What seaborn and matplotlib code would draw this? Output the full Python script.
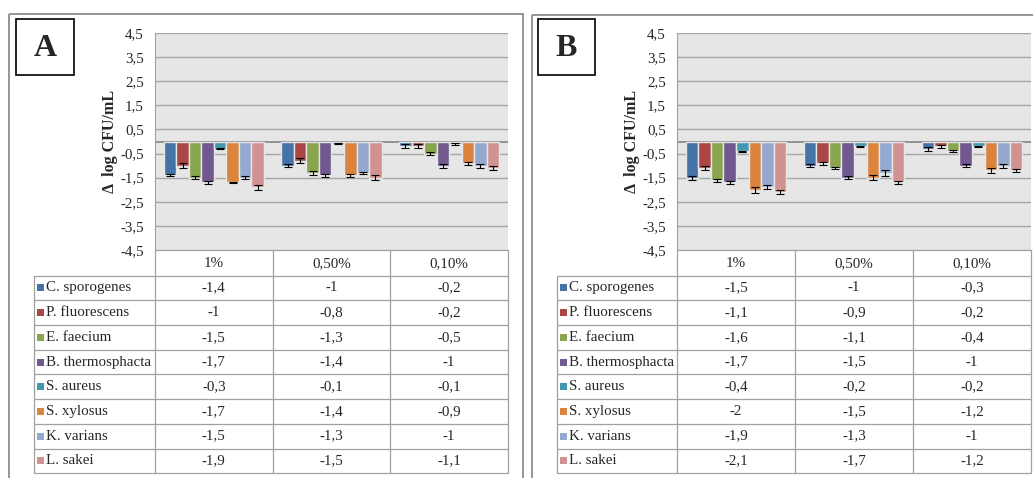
import numpy as np
import pandas as pd
import seaborn as sns
import matplotlib.pyplot as plt
from matplotlib.patches import Rectangle

# ------------------ Data ------------------
concentrations = ["1%", "0,50%", "0,10%"]
species = ["C. sporogenes", "P. fluorescens", "E. faecium", "B. thermosphacta",
           "S. aureus", "S. xylosus", "K. varians", "L. sakei"]
colors = ["#4572A7", "#AA4643", "#89A54E", "#71588F",
          "#4198AF", "#DB843D", "#93A9CF", "#D19392"]

# values per species: [1%, 0.50%, 0.10%]
a_values = [[-1.4, -1.0, -0.2], [-1.0, -0.8, -0.2], [-1.5, -1.3, -0.5], [-1.7, -1.4, -1.0],
            [-0.3, -0.1, -0.1], [-1.7, -1.4, -0.9], [-1.5, -1.3, -1.0], [-1.9, -1.5, -1.1]]
a_errors = [[0.05, 0.07, 0.08], [0.10, 0.10, 0.08], [0.05, 0.07, 0.08], [0.08, 0.07, 0.08],
            [0.02, 0.02, 0.03], [0.02, 0.06, 0.07], [0.05, 0.05, 0.08], [0.10, 0.10, 0.08]]

b_values = [[-1.5, -1.0, -0.3], [-1.1, -0.9, -0.2], [-1.6, -1.1, -0.4], [-1.7, -1.5, -1.0],
            [-0.4, -0.2, -0.2], [-2.0, -1.5, -1.2], [-1.9, -1.3, -1.0], [-2.1, -1.7, -1.2]]
b_errors = [[0.08, 0.07, 0.08], [0.08, 0.07, 0.05], [0.06, 0.05, 0.05], [0.06, 0.06, 0.06],
            [0.02, 0.02, 0.02], [0.12, 0.10, 0.12], [0.08, 0.12, 0.08], [0.08, 0.08, 0.08]]

y_ticks = [4.5, 3.5, 2.5, 1.5, 0.5, -0.5, -1.5, -2.5, -3.5, -4.5]
y_tick_labels = ["4,5", "3,5", "2,5", "1,5", "0,5", "-0,5", "-1,5", "-2,5", "-3,5", "-4,5"]

W, H = 1033, 478
BG = "#E6E6E6"
GRID = "#A6A6A6"
LINE = "#A0A0A0"
FS = 10.8


def fmt(v):
    return f"{v:g}".replace(".", ",")


def px_axes(fig, x0, y0, x1, y1):
    return fig.add_axes([x0 / W, 1 - y1 / H, (x1 - x0) / W, (y1 - y0) / H])


def draw_panel(fig, ov, letter, values, errors, border, letter_box, plot_box, table_x0, ylabel_x):
    # panel border
    bx0, by0, bx1 = border
    ov.add_patch(Rectangle((bx0, by0), bx1 - bx0, 600, fill=False, edgecolor="#8C8C8C", lw=1.3))
    # letter box
    lx0, ly0, lx1, ly1 = letter_box
    ov.add_patch(Rectangle((lx0, ly0), lx1 - lx0, ly1 - ly0, facecolor="white", edgecolor="black", lw=1.2))
    ov.text((lx0 + lx1) / 2, (ly0 + ly1) / 2 + 1, letter, ha="center", va="center",
            fontsize=23, fontweight="bold")

    px0, py0, px1, py1 = plot_box
    ax = px_axes(fig, px0, py0, px1, py1)

    df = pd.DataFrame({
        "species": np.repeat(species, len(concentrations)),
        "conc": concentrations * len(species),
        "value": np.ravel(values),
    })
    sns.barplot(data=df, x="conc", y="value", hue="species", order=concentrations,
                hue_order=species, palette=colors, saturation=1, width=0.85,
                errorbar=None, edgecolor=BG, linewidth=1, legend=False, ax=ax, zorder=3)

    for cont, err in zip(ax.containers, errors):
        for bar, e in zip(cont, err):
            xc = bar.get_x() + bar.get_width() / 2
            ax.errorbar(xc, bar.get_height(), yerr=e, fmt="none", ecolor="black",
                        elinewidth=0.8, capsize=3, capthick=0.8, zorder=4)

    ax.set_facecolor(BG)
    ax.set_ylim(-4.5, 4.5)
    ax.set_xlim(-0.5, 2.5)
    ax.set_yticks(y_ticks)
    ax.set_yticklabels(y_tick_labels, fontsize=FS)
    ax.tick_params(axis="y", length=0, pad=8)
    ax.set_xticks([])
    ax.set_xlabel("")
    ax.set_ylabel("")
    ax.grid(axis="y", color=GRID, lw=1)
    ax.grid(axis="x", visible=False)
    ax.axhline(0, color="#8C8C8C", lw=1.3, zorder=2)
    for side in ["top", "right", "bottom"]:
        ax.spines[side].set_visible(False)
    ax.spines["left"].set_color(LINE)
    ax.spines["left"].set_linewidth(0.8)

    ov.text(ylabel_x, (py0 + py1) / 2, "\u0394  log CFU/mL", rotation=90, ha="center",
            va="center", fontsize=11.5, fontweight="bold")

    # data table
    col_w = (px1 - px0) / len(concentrations)
    head_bottom = 275.6
    row_h = 24.7
    n = len(species)
    tb = head_bottom + n * row_h
    # header row
    ov.plot([px0, px1], [py1, py1], color=LINE, lw=0.9)
    for k in range(len(concentrations) + 1):
        xk = px0 + k * col_w
        ov.plot([xk, xk], [py1, tb], color=LINE, lw=0.9)
    for k, c in enumerate(concentrations):
        ov.text(px0 + (k + 0.5) * col_w, (py1 + head_bottom) / 2 + 1, c, ha="center",
                va="center", fontsize=FS)
    # body rows
    ov.plot([table_x0, table_x0], [head_bottom, tb], color=LINE, lw=0.9)
    for i in range(n + 1):
        yi = head_bottom + i * row_h
        ov.plot([table_x0, px1], [yi, yi], color=LINE, lw=0.9)
    for i, (name, col) in enumerate(zip(species, colors)):
        yc = head_bottom + (i + 0.5) * row_h
        ov.add_patch(Rectangle((table_x0 + 3, yc - 3.5), 7, 7, facecolor=col, edgecolor="none"))
        ov.text(table_x0 + 12, yc, name, ha="left", va="center", fontsize=FS)
        for k, v in enumerate(values[i]):
            ov.text(px0 + (k + 0.5) * col_w, yc, fmt(v), ha="center", va="center", fontsize=FS)


def main():
    sns.set_theme(style="white")
    plt.rcParams["font.family"] = ["Liberation Serif", "DejaVu Serif"]

    fig = plt.figure(figsize=(W / 100, H / 100), dpi=100)
    fig.patch.set_facecolor("white")
    ov = fig.add_axes([0, 0, 1, 1])
    ov.set_xlim(0, W)
    ov.set_ylim(H, 0)
    ov.axis("off")

    draw_panel(fig, ov, "A", a_values, a_errors, (9, 14, 523), (16, 19, 74, 75),
               (155, 33, 508, 250), 34, 110)
    draw_panel(fig, ov, "B", b_values, b_errors, (532, 15, 1060), (538, 19, 595, 75),
               (677, 33, 1031, 250), 557, 632)

    fig.savefig("out.png", dpi=100)


if __name__ == "__main__":
    main()
